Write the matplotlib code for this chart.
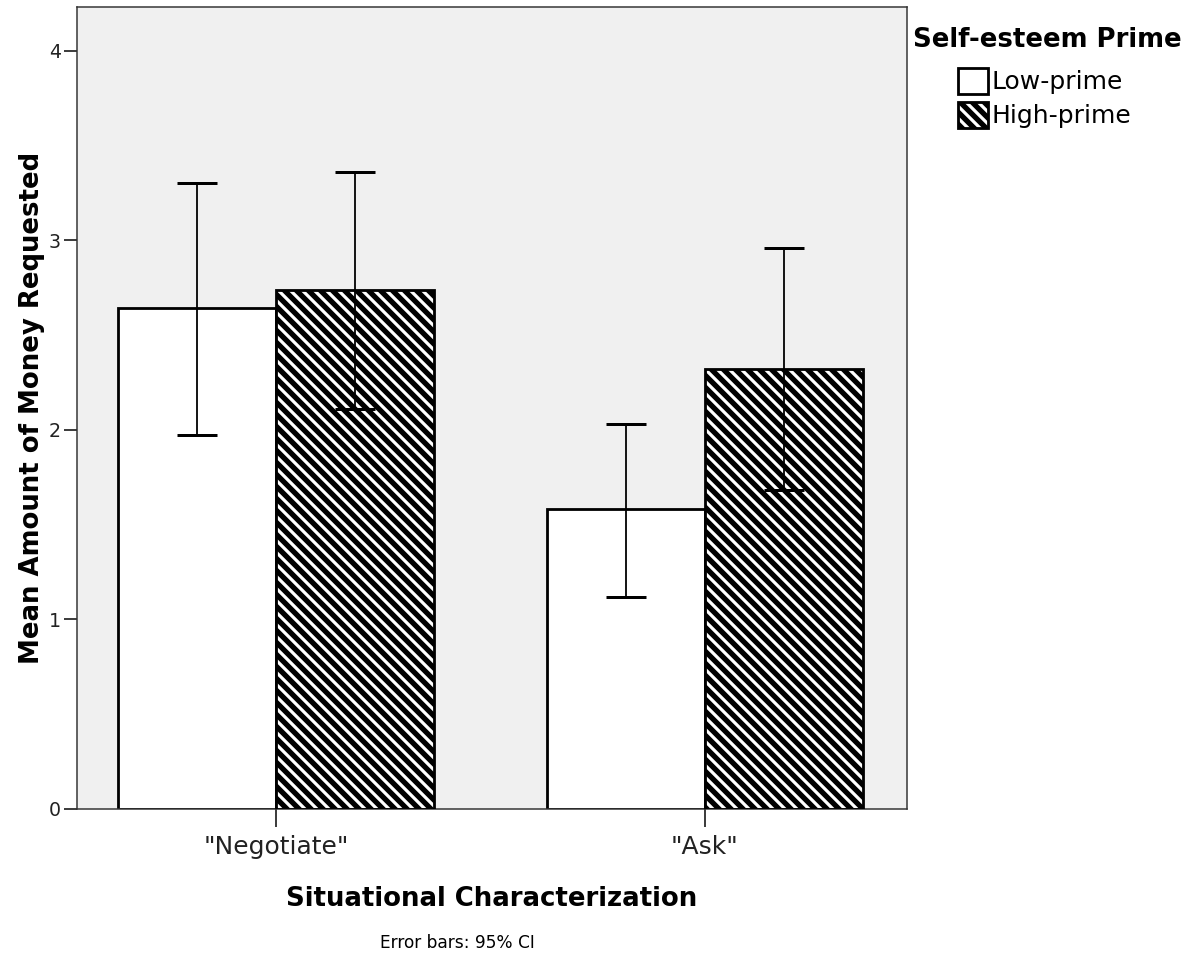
import matplotlib
matplotlib.use("Agg")
import matplotlib.pyplot as plt
from matplotlib.patches import Patch
from matplotlib.legend_handler import HandlerTuple
import numpy as np

categories = ['"Negotiate"', '"Ask"']
groups = ["Low-prime", "High-prime"]
means_low = [2.64, 1.58]
means_high = [2.74, 2.32]
ci_low_lower = [1.97, 1.12]
ci_low_upper = [3.30, 2.03]
ci_high_lower = [2.11, 1.68]
ci_high_upper = [3.36, 2.96]

DPI = 72
plt.rcParams['font.family'] = ['DejaVu Sans']
plt.rcParams['hatch.linewidth'] = 3.2

fig = plt.figure(figsize=(1198 / DPI, 964 / DPI), dpi=DPI)
ax = fig.add_axes([77 / 1198, 1 - 809 / 964, (907 - 77) / 1198, (809 - 7) / 964])
ax.set_facecolor('#f0f0f0')

x = np.arange(len(categories))
w = 0.368

# Low-prime bars
ax.bar(x - w / 2, means_low, w, facecolor='white', edgecolor='black', linewidth=2.8, zorder=2)
# High-prime bars: black with white diagonal stripes, black outline
ax.bar(x + w / 2, means_high, w, facecolor='black', edgecolor='white', hatch='\\\\', linewidth=0, zorder=2)
ax.bar(x + w / 2, means_high, w, facecolor='none', edgecolor='black', linewidth=2.8, zorder=3)

for xs, m, lo, hi in [(x - w / 2, means_low, ci_low_lower, ci_low_upper),
                      (x + w / 2, means_high, ci_high_lower, ci_high_upper)]:
    m = np.array(m); lo = np.array(lo); hi = np.array(hi)
    ax.errorbar(xs, m, yerr=[m - lo, hi - m], fmt='none', ecolor='black',
                elinewidth=1.8, capsize=20, capthick=3, zorder=4)

ax.set_xlim(-0.464, 1.471)
ax.set_ylim(0, 4.23)
ax.set_yticks([0, 1, 2, 3, 4])
ax.set_yticklabels(['0', '1', '2', '3', '4'])
ax.set_xticks(x)
ax.set_xticklabels(categories)
ax.tick_params(axis='x', length=18, width=1.5, labelsize=25, colors='black', pad=8)
ax.tick_params(axis='y', length=13, width=1.5, labelsize=19, colors='black', pad=3)
for lab in ax.get_xticklabels() + ax.get_yticklabels():
    lab.set_color('#222222')
for s in ax.spines.values():
    s.set_linewidth(1.5)
    s.set_color('#333333')

ax.set_xlabel('Situational Characterization', fontsize=26, fontweight='bold', labelpad=27)
ax.set_ylabel('Mean Amount of Money Requested', fontsize=26, fontweight='bold', labelpad=4)

fig.text(457 / 1198, 1 - 943 / 964, 'Error bars: 95% CI', fontsize=17, ha='center', va='center')

fig.text(1047 / 1198, 1 - 40 / 964, 'Self-esteem Prime', fontsize=26, fontweight='bold',
         ha='center', va='center')

h_low = Patch(facecolor='white', edgecolor='black', linewidth=2.8)
h_high = (Patch(facecolor='black', edgecolor='white', hatch='\\\\', linewidth=0),
          Patch(facecolor='none', edgecolor='black', linewidth=2.8))
leg = fig.legend([h_low, h_high], groups, loc='upper left',
                 bbox_to_anchor=(958 / 1198, 1 - 68 / 964), frameon=False,
                 fontsize=25, borderpad=0,
                 handler_map={tuple: HandlerTuple(ndivide=1, pad=0)},
                 handlelength=1.2, handleheight=1.2, handletextpad=0.12,
                 labelspacing=0.32, borderaxespad=0)

fig.savefig('out.png', dpi=DPI)
